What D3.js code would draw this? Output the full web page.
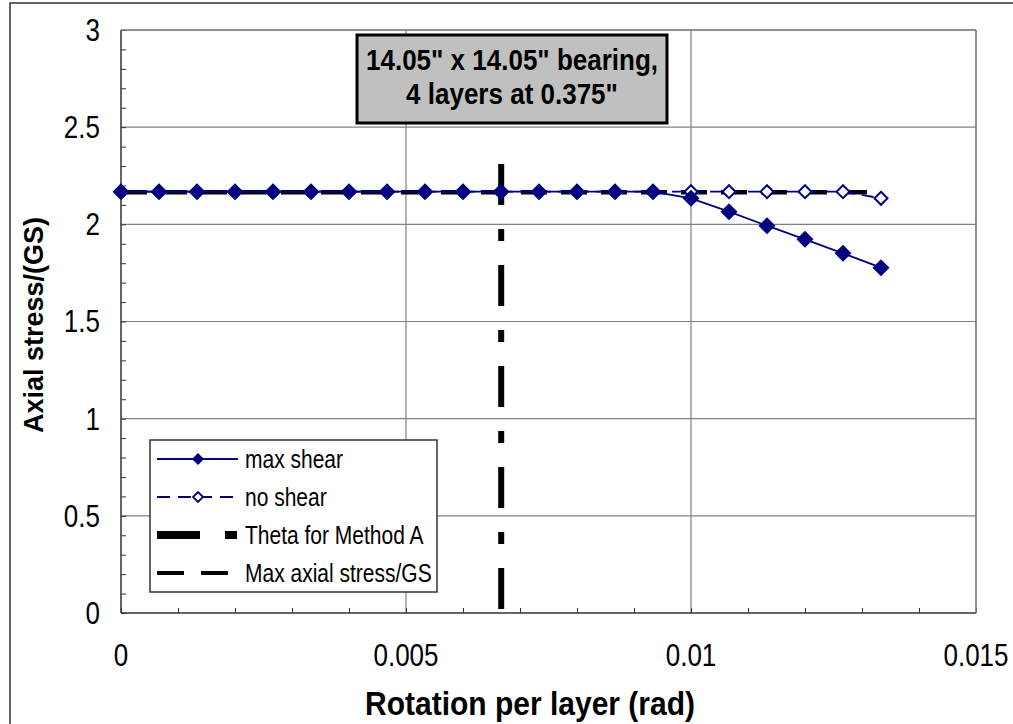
<!DOCTYPE html>
<html><head><meta charset="utf-8">
<script src="https://cdn.jsdelivr.net/npm/d3@7"></script>
<style>
body{margin:0;background:#fff;}
text{font-family:"Liberation Sans",Arial,sans-serif;}
</style></head>
<body><svg id="c" width="1013" height="724"></svg>
<script>
const rotation = [0, 0.000667, 0.001333, 0.002, 0.002667, 0.003333, 0.004, 0.004667, 0.005333, 0.006, 0.006667, 0.007333, 0.008, 0.008667, 0.009333, 0.01, 0.010667, 0.011333, 0.012, 0.012667, 0.013333];
const maxShear = [2.168, 2.168, 2.168, 2.168, 2.168, 2.168, 2.168, 2.168, 2.168, 2.168, 2.168, 2.168, 2.168, 2.168, 2.168, 2.134, 2.065, 1.993, 1.923, 1.851, 1.777];
const noShear = [2.168, 2.168, 2.168, 2.168, 2.168, 2.168, 2.168, 2.168, 2.168, 2.168, 2.168, 2.168, 2.168, 2.168, 2.168, 2.168, 2.168, 2.168, 2.168, 2.168, 2.134];
const thetaX = [0.00667, 0.00667];
const thetaY = [0, 2.31];
const maxAxialX = [0, 0.013333];
const maxAxialY = [2.165, 2.165];
const xTicks = [0, 0.005, 0.01, 0.015];
const xTickLabels = ["0", "0.005", "0.01", "0.015"];
const yTicks = [0, 0.5, 1, 1.5, 2, 2.5, 3];
const yTickLabels = ["0", "0.5", "1", "1.5", "2", "2.5", "3"];
const legendLabels = ["max shear", "no shear", "Theta for Method A", "Max axial stress/GS"];
const titleLines = ["14.05\" x 14.05\" bearing,", "4 layers at 0.375\""];
const xTitle = "Rotation per layer (rad)";
const yTitle = "Axial stress/(GS)";

const svg = d3.select("#c");
const L = 121, T = 30, W = 855, H = 583;
const x = d3.scaleLinear().domain([0, 0.015]).range([L, L + W]);
const y = d3.scaleLinear().domain([0, 3]).range([T + H, T]);
const navy = "#000080";

// outer frame
svg.append("rect").attr("x", 10).attr("y", 3).attr("width", 1010).attr("height", 730)
  .attr("fill", "none").attr("stroke", "#333").attr("stroke-width", 1.5);

// grid
const g = svg.append("g");
g.selectAll(".hg").data(yTicks.slice(1)).join("line")
  .attr("x1", L).attr("x2", L + W).attr("y1", d => y(d)).attr("y2", d => y(d))
  .attr("stroke", "#808080").attr("stroke-width", 1.2);
g.selectAll(".vg").data(xTicks.slice(1)).join("line")
  .attr("y1", T).attr("y2", T + H).attr("x1", d => x(d)).attr("x2", d => x(d))
  .attr("stroke", "#808080").attr("stroke-width", 1.2);

// minor ticks (inside)
const yAxis = d3.axisRight(y).tickValues(d3.range(0, 3.0001, 0.1)).tickSize(5).tickFormat("");
svg.append("g").attr("transform", `translate(${L},0)`).call(yAxis)
  .call(s => s.select(".domain").remove())
  .selectAll("line").attr("stroke", "#333");
const xAxis = d3.axisTop(x).tickValues(d3.range(0, 0.0150001, 0.001)).tickSize(5).tickFormat("");
svg.append("g").attr("transform", `translate(0,${T + H})`).call(xAxis)
  .call(s => s.select(".domain").remove())
  .selectAll("line").attr("stroke", "#333");

// axis lines
svg.append("line").attr("x1", L).attr("x2", L).attr("y1", T).attr("y2", T + H).attr("stroke", "#333").attr("stroke-width", 1.5);
svg.append("line").attr("x1", L).attr("x2", L + W).attr("y1", T + H).attr("y2", T + H).attr("stroke", "#333").attr("stroke-width", 1.5);

// tick labels (vertically stretched like the reference)
svg.selectAll(".yl").data(yTicks).join("text")
  .attr("transform", d => `translate(${L - 21},${y(d)}) scale(1,1.2)`)
  .attr("text-anchor", "end").attr("dominant-baseline", "central")
  .attr("font-size", 26).text((d, i) => yTickLabels[i]);
svg.selectAll(".xl").data(xTicks).join("text")
  .attr("transform", d => `translate(${x(d)},655) scale(1,1.2)`)
  .attr("text-anchor", "middle").attr("dominant-baseline", "central")
  .attr("font-size", 26).text((d, i) => xTickLabels[i]);

// axis titles
svg.append("text").attr("transform", "translate(530,703) scale(1,1.12)").attr("text-anchor", "middle").attr("dominant-baseline", "central")
  .attr("font-size", 30).attr("font-weight", "bold").text(xTitle);
svg.append("text").attr("transform", "translate(34,325) rotate(-90)").attr("text-anchor", "middle").attr("dominant-baseline", "central")
  .attr("font-size", 27).attr("font-weight", "bold").text(yTitle);

// theta line
const line = d3.line().x(d => x(d[0])).y(d => y(d[1]));
svg.append("path").attr("d", line(thetaX.map((v, i) => [v, thetaY[thetaY.length - 1 - i]])))
  .attr("stroke", "#000").attr("stroke-width", 6).attr("fill", "none").attr("stroke-dasharray", "41,24,12,24");
// max axial line
svg.append("path").attr("d", line(maxAxialX.map((v, i) => [v, maxAxialY[i]])))
  .attr("stroke", "#000").attr("stroke-width", 4.5).attr("fill", "none").attr("stroke-dasharray", "26,14");
// no shear
svg.append("path").attr("d", line(rotation.map((v, i) => [v, noShear[i]])))
  .attr("stroke", navy).attr("stroke-width", 1.8).attr("fill", "none").attr("stroke-dasharray", "12,7");
// max shear
svg.append("path").attr("d", line(rotation.map((v, i) => [v, maxShear[i]])))
  .attr("stroke", navy).attr("stroke-width", 1.8).attr("fill", "none");

const diamond = r => `M0,${-r}L${r},0L0,${r}L${-r},0Z`;
svg.selectAll(".ns").data(rotation).join("path")
  .attr("transform", (d, i) => `translate(${x(d)},${y(noShear[i])})`)
  .attr("d", diamond(6.5)).attr("fill", "#fff").attr("stroke", navy).attr("stroke-width", 2);
svg.selectAll(".ms").data(rotation).join("path")
  .attr("transform", (d, i) => `translate(${x(d)},${y(maxShear[i])})`)
  .attr("d", diamond(8.5)).attr("fill", navy);

// plot border top/right
svg.append("line").attr("x1", L).attr("x2", L + W).attr("y1", T).attr("y2", T).attr("stroke", "#808080").attr("stroke-width", 1.5);
svg.append("line").attr("x1", L + W).attr("x2", L + W).attr("y1", T).attr("y2", T + H).attr("stroke", "#808080").attr("stroke-width", 1.5);

// legend
const lg = svg.append("g");
lg.append("rect").attr("x", 150).attr("y", 440).attr("width", 287).attr("height", 152)
  .attr("fill", "#fff").attr("stroke", "#333").attr("stroke-width", 1.5);
const rowY = i => 459 + i * 38;
const sx1 = 157, sx2 = 238, sm = 198;
lg.append("line").attr("x1", sx1).attr("x2", sx2).attr("y1", rowY(0)).attr("y2", rowY(0)).attr("stroke", navy).attr("stroke-width", 1.8);
lg.append("path").attr("transform", `translate(${sm},${rowY(0)})`).attr("d", diamond(6)).attr("fill", navy);
lg.append("line").attr("x1", sx1).attr("x2", sx2).attr("y1", rowY(1)).attr("y2", rowY(1)).attr("stroke", navy).attr("stroke-width", 1.8).attr("stroke-dasharray", "13,8");
lg.append("path").attr("transform", `translate(${sm},${rowY(1)})`).attr("d", diamond(5)).attr("fill", "#fff").attr("stroke", navy).attr("stroke-width", 1.8);
lg.append("line").attr("x1", sx1).attr("x2", sx2).attr("y1", rowY(2)).attr("y2", rowY(2)).attr("stroke", "#000").attr("stroke-width", 8).attr("stroke-dasharray", "43,25,12,30");
lg.append("line").attr("x1", sx1).attr("x2", sx2).attr("y1", rowY(3)).attr("y2", rowY(3)).attr("stroke", "#000").attr("stroke-width", 4).attr("stroke-dasharray", "27,17");
lg.selectAll(".lt").data(legendLabels).join("text")
  .attr("transform", (d, i) => `translate(245,${rowY(i)}) scale(1,1.2)`).attr("dominant-baseline", "central")
  .attr("font-size", 21).text(d => d);

// title box
svg.append("rect").attr("x", 357).attr("y", 35).attr("width", 310).attr("height", 88)
  .attr("fill", "#c0c0c0").attr("stroke", "#000").attr("stroke-width", 3);
svg.selectAll(".tt").data(titleLines).join("text")
  .attr("transform", (d, i) => `translate(512,${60 + i * 34}) scale(1,1.1)`).attr("text-anchor", "middle").attr("dominant-baseline", "central")
  .attr("font-size", 26).attr("font-weight", "bold").text(d => d);
</script></body></html>
